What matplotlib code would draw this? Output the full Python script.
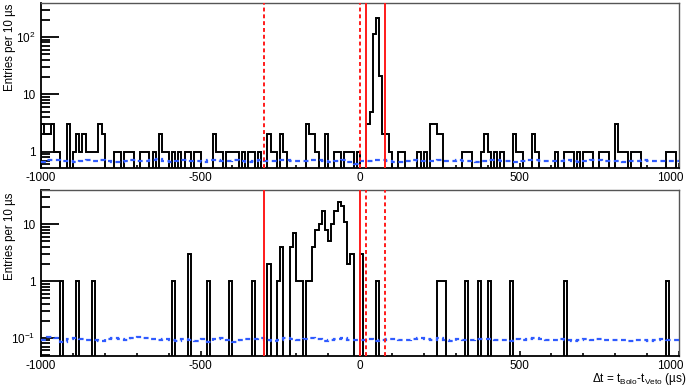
import numpy as np
import matplotlib
matplotlib.use('Agg')
import matplotlib.pyplot as plt
import matplotlib.transforms as mtransforms
from matplotlib.ticker import FixedLocator, FuncFormatter, NullFormatter

plt.rcParams['font.family'] = ['Liberation Sans', 'DejaVu Sans']
plt.rcParams['mathtext.fontset'] = 'custom'
plt.rcParams['mathtext.rm'] = 'Liberation Sans'
plt.rcParams['mathtext.it'] = 'Liberation Sans:italic'
plt.rcParams['mathtext.sf'] = 'Liberation Sans'

# ---------------- data ----------------
bin_width = 10
x_min, x_max = -1000, 1000

# top panel: non-empty bins (left edge in us) and counts
top_bins = [-1000, -990, -980, -970, -960, -950,
            -920, -900, -890, -880, -870, -860, -850, -840, -830, -820, -810,
            -770, -760, -740, -730, -720, -690, -680, -670, -650, -630, -620, -610,
            -590, -570, -550, -540, -520, -510, -460, -450, -440, -420, -410, -400,
            -390, -370, -350, -340, -320,
            -290, -280, -270, -250, -240,
            -170, -160, -150, -140, -110, -80, -70, -50, -40, -30, -10,
            20, 30, 40, 50, 60, 70, 80, 90, 120, 130, 180, 200, 220, 230, 240, 250,
            320, 330, 340, 380, 390, 400, 420, 440, 480, 490, 500, 540, 550, 610,
            640, 650, 660, 680, 700, 710, 720, 750, 760, 770, 800, 810, 820, 830,
            850, 860, 870, 960, 970, 980]
top_counts = [3, 2, 2, 3, 1, 1,
              3, 1, 2, 1, 2, 1, 1, 1, 1, 3, 2,
              1, 1, 1, 1, 1, 1, 1, 1, 1, 2, 1, 1,
              1, 1, 1, 1, 1, 1, 2, 1, 1, 1, 1, 1,
              1, 1, 1, 1, 1,
              2, 1, 1, 2, 1,
              3, 2, 2, 1, 2, 1, 1, 1, 1, 1, 1,
              3, 5, 111, 211, 21, 2, 2, 1, 1, 1, 1, 1, 3, 3, 2, 2,
              1, 1, 1, 1, 2, 1, 1, 1, 2, 1, 1, 2, 1, 1,
              1, 1, 1, 1, 1, 1, 1, 1, 1, 1, 3, 1, 1, 1,
              1, 1, 1, 1, 1, 1]

# bottom panel
bot_bins = [-940, -890, -840, -590, -540, -480, -410, -340,
            -290, -260, -250, -220, -210, -200, -190, -170, -160,
            -150, -140, -130, -120, -110, -100, -90, -80, -70, -60, -50, -40, -30,
            0, 50, 240, 250, 260, 330, 370, 400, 470, 640, 960]
bot_counts = [1, 1, 1, 1, 3, 1, 1, 1,
              2, 1, 4, 4, 7, 1, 1, 1, 1,
              4, 8, 10, 17, 8, 5, 10, 17, 25, 21, 11, 2, 3,
              3, 1, 1, 1, 1, 1, 1, 1, 1, 1, 1]

# accidental-coincidence background (20 us steps)
top_bkg = [0.66, 0.72, 0.73, 0.70, 0.68, 0.66, 0.69, 0.71, 0.70, 0.72,
           0.68, 0.66, 0.67, 0.70, 0.71, 0.69, 0.68, 0.72, 0.74, 0.70,
           0.67, 0.69, 0.72, 0.70, 0.68, 0.67, 0.71, 0.73, 0.70, 0.69,
           0.72, 0.70, 0.67, 0.69, 0.71, 0.70, 0.68, 0.72, 0.71, 0.69,
           0.70, 0.68, 0.71, 0.72, 0.69, 0.67, 0.70, 0.71, 0.65, 0.62,
           0.69, 0.70, 0.72, 0.71, 0.69, 0.67, 0.66, 0.70, 0.72, 0.69,
           0.68, 0.70, 0.71, 0.68, 0.70, 0.72, 0.70, 0.69, 0.66, 0.68,
           0.71, 0.73, 0.70, 0.68, 0.67, 0.69, 0.72, 0.71, 0.69, 0.70,
           0.68, 0.70, 0.71, 0.69, 0.67, 0.70, 0.72, 0.71, 0.69, 0.68,
           0.70, 0.66, 0.68, 0.69, 0.71, 0.70, 0.68, 0.70, 0.69, 0.68]
bot_bkg = [0.092, 0.102, 0.098, 0.085, 0.094, 0.100, 0.097, 0.093, 0.090, 0.088,
           0.096, 0.101, 0.095, 0.092, 0.098, 0.104, 0.099, 0.094, 0.091, 0.095,
           0.093, 0.089, 0.097, 0.091, 0.087, 0.094, 0.086, 0.095, 0.098, 0.090,
           0.084, 0.092, 0.097, 0.095, 0.100, 0.091, 0.088, 0.093, 0.099, 0.094,
           0.092, 0.096, 0.100, 0.094, 0.089, 0.090, 0.096, 0.101, 0.093, 0.091,
           0.093, 0.095, 0.088, 0.090, 0.094, 0.096, 0.092, 0.091, 0.097, 0.099,
           0.095, 0.090, 0.098, 0.092, 0.088, 0.094, 0.093, 0.091, 0.096, 0.094,
           0.095, 0.092, 0.090, 0.087, 0.096, 0.093, 0.095, 0.099, 0.097, 0.093,
           0.091, 0.094, 0.090, 0.089, 0.093, 0.095, 0.091, 0.094, 0.092, 0.090,
           0.093, 0.091, 0.089, 0.092, 0.090, 0.088, 0.091, 0.095, 0.093, 0.090]

top_solid_lines = [20, 77]
top_dashed_lines = [-300, 0]
bot_solid_lines = [-300, 0]
bot_dashed_lines = [20, 78]

top_ylim = (0.52, 390)
bot_ylim = (0.048, 40)
xticks = [-1000, -500, 0, 500, 1000]
top_yticks = [1, 10, 100]
top_ylabels = ['1', '10', r'$10^{2}$']
bot_yticks = [0.1, 1, 10]
bot_ylabels = [r'$10^{-1}$', '1', '10']
ylabel_text = 'Entries per 10 µs'
xlabel_text = r'$\Delta$t = t$_{\mathrm{Bolo}}$-t$_{\mathrm{Veto}}$ (µs)'

# ---------------- drawing ----------------
W, H = 687, 387
fig = plt.figure(figsize=(W / 100, H / 100), dpi=100)

def frac_box(l, t, r, b):
    return [l / W, 1 - b / H, (r - l) / W, (b - t) / H]

ax_top = fig.add_axes(frac_box(41, 3, 679, 168))
ax_bot = fig.add_axes(frac_box(41, 190, 679, 356))

edges = np.arange(x_min, x_max + bin_width, bin_width)
bkg_edges = np.arange(x_min, x_max + 20, 20)
FLOOR = 1e-4

def hist_from(bins, counts):
    h = np.full(len(edges) - 1, FLOOR)
    idx = ((np.array(bins) - x_min) // bin_width).astype(int)
    h[idx] = counts
    return h

def style(ax, ylim, yticks, ylabels):
    ax.set_yscale('log')
    ax.set_xlim(x_min, x_max)
    ax.set_ylim(*ylim)
    ax.xaxis.set_major_locator(FixedLocator(xticks))
    ax.xaxis.set_minor_locator(FixedLocator(np.arange(-900, 1000, 100)))
    ax.set_xticklabels([str(v) for v in xticks])
    ax.yaxis.set_major_locator(FixedLocator(yticks))
    ax.yaxis.set_major_formatter(FuncFormatter(lambda v, p: dict(zip(yticks, ylabels)).get(v, '')))
    ax.yaxis.set_minor_locator(matplotlib.ticker.LogLocator(base=10, subs=np.arange(2, 10), numticks=20))
    ax.yaxis.set_minor_formatter(NullFormatter())
    ax.tick_params(axis='y', which='major', direction='in', length=13, width=1.3,
                   labelsize=8.5, pad=4, right=False)
    ax.tick_params(axis='y', which='minor', direction='in', length=6.5, width=1.3, right=False)
    ax.tick_params(axis='x', which='major', direction='in', length=3.5, width=1.2,
                   labelsize=8.5, pad=3, top=False)
    ax.tick_params(axis='x', which='minor', direction='in', length=2.5, width=1.2, top=False)
    for s in ['top', 'right']:
        ax.spines[s].set_color('#555555')
        ax.spines[s].set_linewidth(1.0)
    for s in ['bottom', 'left']:
        ax.spines[s].set_color('black')
        ax.spines[s].set_linewidth(1.3)
    ax.set_facecolor('white')
    # shift the last x label inward, as in the reference
    labels = ax.get_xticklabels()
    shift = mtransforms.ScaledTranslation(-9 / 100, 0, fig.dpi_scale_trans)
    labels[-1].set_transform(labels[-1].get_transform() + shift)

for ax, bins, counts, bkg, solid, dashed, ylim, yt, yl in [
        (ax_top, top_bins, top_counts, top_bkg, top_solid_lines, top_dashed_lines,
         top_ylim, top_yticks, top_ylabels),
        (ax_bot, bot_bins, bot_counts, bot_bkg, bot_solid_lines, bot_dashed_lines,
         bot_ylim, bot_yticks, bot_ylabels)]:
    h = hist_from(bins, counts)
    ax.stairs(h, edges, baseline=FLOOR, color='black', linewidth=1.4, zorder=3)
    ax.stairs(bkg, bkg_edges, baseline=None, color='#2f5bff', linewidth=1.6,
              linestyle=(0, (2.2, 1.6)), zorder=4)
    for v in solid:
        ax.axvline(v, color='#ff1a1a', linewidth=1.4, zorder=5)
    for v in dashed:
        ax.axvline(v, color='#ff1a1a', linewidth=1.4, linestyle=(0, (2.0, 1.5)), zorder=5)
    style(ax, ylim, yt, yl)

fig.text(10 / W, 1 - 4 / H, ylabel_text, rotation=90, ha='center', va='top', fontsize=8.3)
fig.text(10 / W, 1 - 193 / H, ylabel_text, rotation=90, ha='center', va='top', fontsize=8.3)
fig.text(686 / W, 1 - 379 / H, xlabel_text, ha='right', va='center', fontsize=8.5)

fig.savefig('out.png', dpi=100)
